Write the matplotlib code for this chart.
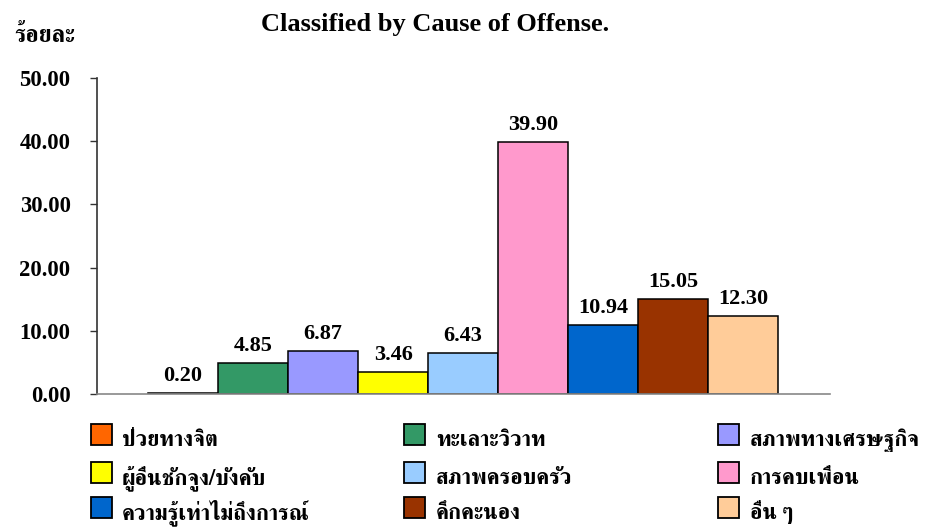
import matplotlib
matplotlib.use('Agg')
import matplotlib.pyplot as plt
from matplotlib.patches import Rectangle

categories = ["ป่วยทางจิต", "ทะเลาะวิวาท", "สภาพทางเศรษฐกิจ",
              "ผู้อื่นชักจูง/บังคับ", "สภาพครอบครัว", "การคบเพื่อน",
              "ความรู้เท่าไม่ถึงการณ์", "คึกคะนอง", "อื่น ๆ"]
values = [0.20, 4.85, 6.87, 3.46, 6.43, 39.90, 10.94, 15.05, 12.30]
colors = ["#FF6600", "#339966", "#9999FF", "#FFFF00", "#99CCFF",
          "#FF99CC", "#0066CC", "#993300", "#FFCC99"]
yticks = [0, 10, 20, 30, 40, 50]
title = "Classified by Cause of Offense."
ylabel = "ร้อยละ"

serif = ['Liberation Serif', 'DejaVu Serif']
thai = ['FreeSerif', 'Noto Serif Thai', 'Loma', 'DejaVu Sans']

W, H = 930, 527
fig = plt.figure(figsize=(W/100, H/100), dpi=100)
ax = fig.add_axes([97/W, 1-394/H, (830-97)/W, (394-78)/H])

x = list(range(len(values)))
bars = ax.bar(x, values, width=1.0, color=colors, edgecolor='black', linewidth=1.1)
for xi, v in zip(x, values):
    ax.annotate(f"{v:.2f}", (xi, v), xytext=(0, 5), textcoords='offset points',
                ha='center', va='bottom', fontsize=16, fontweight='bold', family=serif)

ax.set_xlim(-1.23, 9.24)
ax.set_ylim(0, 50)
ax.set_yticks(yticks)
ax.set_yticklabels([f"{t:.2f}" for t in yticks], fontsize=16.3, fontweight='bold', family=serif)
ax.tick_params(axis='y', direction='out', length=5, width=1.0, pad=14, color='#333333')
ax.set_xticks([])
for s in ['top', 'right']:
    ax.spines[s].set_visible(False)
ax.spines['left'].set_color('#333333')
ax.spines['left'].set_linewidth(1.2)
ax.spines['bottom'].set_color('#888888')
ax.spines['bottom'].set_linewidth(1.2)

fig.text(435/W, 1-25/H, title, ha='center', va='center', fontsize=19,
         fontweight='bold', family=serif)
fig.text(14/W, 1-42/H, ylabel, ha='left', va='baseline', fontsize=17,
         fontweight='bold', family=thai)

# legend (3 columns x 3 rows, row-major order)
marker_x = [91, 404, 718]
text_x = [122, 436, 750]
baselines = [446, 484, 519]
for i, (lab, col) in enumerate(zip(categories, colors)):
    r, c = divmod(i, 3)
    b = baselines[r]
    fig.add_artist(Rectangle((marker_x[c]/W, 1-(b-1)/H), 21/W, 21/H,
                             transform=fig.transFigure, facecolor=col,
                             edgecolor='black', linewidth=1.3))
    fig.text(text_x[c]/W, 1-b/H, lab, ha='left', va='baseline', fontsize=15.8,
             fontweight='bold', family=thai)

fig.savefig('out.png', dpi=100)
